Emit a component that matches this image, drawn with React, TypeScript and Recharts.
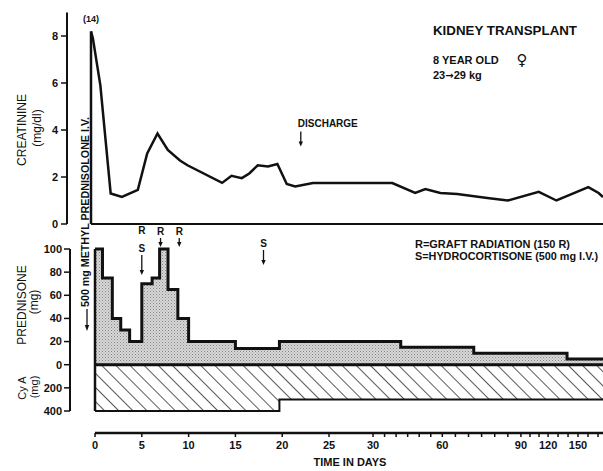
import React from "react";
import {
  ComposedChart,
  Line,
  Area,
  XAxis,
  YAxis,
  ReferenceLine,
  ReferenceDot,
} from "recharts";

// broken time axis: days -> axis position (linear to 25 d, then compressed)
const scaleDays = [0, 25, 30, 60, 90, 120, 150, 180];
const scalePos = [0, 25, 29.7, 37.1, 45.5, 48.4, 51.6, 54.8];

const majorTickDays = [0, 5, 10, 15, 20, 25, 30, 60, 90, 120, 150];
const minorTickDays = [35, 40, 45, 50, 55, 65, 70, 75, 80, 85, 100, 110, 130, 140, 160, 170];
const lastDay = 175;

const creatinineDays = [
  -0.4, -0.2, 0.6, 1.7, 2.9, 4.6, 5.6, 6.7, 7.8, 9.1, 9.9, 13.6, 14.6, 15.7, 16.5,
  17.4, 18.5, 19.5, 20.5, 21.4, 23.3, 38.4, 48.3, 52.7, 59.2, 65.7, 77.2, 85, 109.7,
  128.4, 160.3, 170.6, 175,
];
const creatinineValues = [
  8.2, 7.9, 5.9, 1.3, 1.15, 1.45, 3.0, 3.85, 3.15, 2.7, 2.5, 1.75, 2.05, 1.95, 2.15,
  2.5, 2.45, 2.55, 1.7, 1.6, 1.74, 1.74, 1.32, 1.49, 1.32, 1.28, 1.11, 1.0, 1.37,
  1.0, 1.57, 1.32, 1.15,
];
const creatinineDay0Actual = 14;
const creatinineTicks = [0, 2, 4, 6, 8];

const prednisoneDays = [0, 0.8, 1.85, 2.75, 3.7, 5, 6.1, 6.9, 7.8, 8.85, 10, 15, 19.7, 42, 72, 139, lastDay];
const prednisoneMg = [100, 75, 40, 30, 20, 70, 75, 100, 65, 40, 20, 14, 20, 15, 10, 5, 5];
const prednisoneTicks = [0, 20, 40, 60, 80, 100];

const cyclosporinDays = [0, 19.7, lastDay];
const cyclosporinMg = [400, 300, 300];
const cyclosporinTicks = [200, 400];

const dischargeDay = 22;

const markers = [
  { day: 5, labels: ["R", "S"], tip: 77.5, arrow: 20 },
  { day: 7, labels: ["R"], tip: 101.7, arrow: 9 },
  { day: 9, labels: ["R"], tip: 101.7, arrow: 9 },
  { day: 18, labels: ["S"], tip: 86.2, arrow: 15 },
];

const FONT = '"Liberation Sans", Arial, Helvetica, sans-serif';
const INK = "#111";

function dayToPos(day: number): number {
  if (day <= scaleDays[0]) return day;
  for (let i = 1; i < scaleDays.length; i++) {
    if (day <= scaleDays[i]) {
      const t = (day - scaleDays[i - 1]) / (scaleDays[i] - scaleDays[i - 1]);
      return scalePos[i - 1] + t * (scalePos[i] - scalePos[i - 1]);
    }
  }
  return scalePos[scalePos.length - 1];
}

function stepValue(days: number[], values: number[], day: number): number {
  let v = values[0];
  days.forEach((d, i) => {
    if (d <= day) v = values[i];
  });
  return v;
}

// CyA shares the dose axis at 1/10 scale, drawn below zero
const cyaUnit = (mg: number) => -mg / 10;

const creatinineData = creatinineDays.map((d, i) => ({
  pos: dayToPos(d),
  cr: creatinineValues[i],
}));

const doseDays = Array.from(new Set([...prednisoneDays, ...cyclosporinDays])).sort((a, b) => a - b);
const doseData = doseDays.map((d) => ({
  pos: dayToPos(d),
  pred: stepValue(prednisoneDays, prednisoneMg, d),
  cya: cyaUnit(stepValue(cyclosporinDays, cyclosporinMg, d)),
}));

const timeTicks = [
  ...majorTickDays.map((d) => ({ pos: dayToPos(d), label: String(d) })),
  ...minorTickDays.map((d) => ({ pos: dayToPos(d), label: "" })),
];
const doseTicks = [...prednisoneTicks, ...cyclosporinTicks.map(cyaUnit)];

const xMax = dayToPos(lastDay);
const tickStyle = { fontSize: 11, fontWeight: "bold" as const, fill: INK, fontFamily: FONT };
const axisLine = { stroke: INK, strokeWidth: 2 };

const MarkerShape = ({ cx, cy, m }: any) => (
  <g>
    <line x1={cx} y1={cy - m.arrow} x2={cx} y2={cy - 4} stroke={INK} strokeWidth={1.3} />
    <path d={`M${cx - 2.2},${cy - 5} L${cx + 2.2},${cy - 5} L${cx},${cy} Z`} fill={INK} />
    {m.labels.map((t: string, i: number) => (
      <text
        key={t + i}
        x={cx}
        y={cy - m.arrow - 3 - (m.labels.length - 1 - i) * 18}
        textAnchor="middle"
        fontSize={10}
        fontWeight="bold"
        fontFamily={FONT}
        fill={INK}
      >
        {t}
      </text>
    ))}
  </g>
);

const RotLabel = ({ x, y, size, children, bold }: any) => (
  <text
    x={x}
    y={y}
    transform={`rotate(-90 ${x} ${y})`}
    textAnchor="middle"
    dominantBaseline="central"
    fontSize={size}
    fontWeight={bold ? "bold" : "normal"}
    fontFamily={FONT}
    fill={INK}
  >
    {children}
  </text>
);

// axis ids: the "a_" spacer axis sits next to the plot, the "b_" axis outside it
const CreatininePanel = () => (
  <ComposedChart
    width={603}
    height={235}
    data={creatinineData}
    margin={{ top: 12.5, right: 0, bottom: 10, left: 0 }}
  >
    <XAxis
      xAxisId="a_x"
      dataKey="pos"
      type="number"
      domain={[dayToPos(creatinineDays[0]), xMax]}
      allowDataOverflow
      tick={false}
      tickLine={false}
      height={1}
      axisLine={axisLine}
    />
    <YAxis
      yAxisId="b_cr"
      width={67}
      domain={[0, 9]}
      ticks={creatinineTicks}
      tick={tickStyle}
      tickSize={6}
      tickMargin={3}
      tickLine={{ stroke: INK, strokeWidth: 1.5 }}
      axisLine={axisLine}
      interval={0}
    />
    <YAxis yAxisId="a_spacer" width={24} axisLine={false} tick={false} tickLine={false} />
    <ReferenceLine
      xAxisId="a_x"
      yAxisId="b_cr"
      segment={[
        { x: dayToPos(creatinineDays[0]), y: 0 },
        { x: dayToPos(creatinineDays[0]), y: creatinineValues[0] },
      ]}
      stroke={INK}
      strokeWidth={2.5}
    />
    <Line
      xAxisId="a_x"
      yAxisId="b_cr"
      type="linear"
      dataKey="cr"
      stroke={INK}
      strokeWidth={2.5}
      dot={false}
      isAnimationActive={false}
    />
    <ReferenceDot
      xAxisId="a_x"
      yAxisId="b_cr"
      x={dayToPos(creatinineDays[0])}
      y={creatinineValues[0]}
      ifOverflow="visible"
      shape={(p: any) => (
        <text x={p.cx} y={p.cy - 9} textAnchor="middle" fontSize={9} fontWeight="bold" fontFamily={FONT} fill={INK}>
          ({creatinineDay0Actual})
        </text>
      )}
    />
    <ReferenceDot
      xAxisId="a_x"
      yAxisId="b_cr"
      x={dayToPos(dischargeDay)}
      y={3.3}
      ifOverflow="visible"
      shape={(p: any) => (
        <g>
          <text x={p.cx - 3} y={p.cy - 19} fontSize={10} fontWeight="bold" fontFamily={FONT} fill={INK}>
            DISCHARGE
          </text>
          <line x1={p.cx} y1={p.cy - 15} x2={p.cx} y2={p.cy - 4} stroke={INK} strokeWidth={1.3} />
          <path d={`M${p.cx - 2.2},${p.cy - 5} L${p.cx + 2.2},${p.cy - 5} L${p.cx},${p.cy} Z`} fill={INK} />
        </g>
      )}
    />
  </ComposedChart>
);

const DosePanel = () => (
  <ComposedChart
    width={603}
    height={249}
    data={doseData}
    margin={{ top: 27, right: 0, bottom: 0, left: 0 }}
  >
    <defs>
      <pattern id="stipple" width="3" height="3" patternUnits="userSpaceOnUse">
        <rect width="3" height="3" fill="#d8d8d8" />
        <rect x="0" y="0" width="1" height="1" fill="#858585" />
        <rect x="1.5" y="1.5" width="1" height="1" fill="#9a9a9a" />
      </pattern>
      <pattern id="hatch" width="10" height="10" patternUnits="userSpaceOnUse" patternTransform="rotate(-45)">
        <rect width="10" height="10" fill="#fff" />
        <line x1="0" y1="0" x2="0" y2="10" stroke={INK} strokeWidth="1.4" />
      </pattern>
    </defs>
    <XAxis
      xAxisId="b_time"
      dataKey="pos"
      type="number"
      domain={[0, xMax]}
      allowDataOverflow
      height={38}
      ticks={timeTicks.map((t) => t.pos)}
      tickFormatter={(v: number) => timeTicks.find((t) => Math.abs(t.pos - v) < 1e-6)?.label ?? ""}
      interval={0}
      tick={tickStyle}
      tickSize={4}
      tickMargin={4}
      tickLine={{ stroke: INK, strokeWidth: 1.5 }}
      axisLine={{ stroke: INK, strokeWidth: 2.5 }}
    />
    <XAxis
      xAxisId="a_x"
      dataKey="pos"
      type="number"
      domain={[0, xMax]}
      allowDataOverflow
      height={22}
      axisLine={false}
      tick={false}
      tickLine={false}
    />
    <YAxis
      yAxisId="b_dose"
      width={70}
      domain={[cyaUnit(400), 100]}
      ticks={doseTicks}
      tickFormatter={(v: number) => (v < 0 ? String(-v * 10) : String(v))}
      interval={0}
      tick={tickStyle}
      tickSize={6}
      tickMargin={2}
      tickLine={{ stroke: INK, strokeWidth: 1.5 }}
      axisLine={axisLine}
    />
    <YAxis
      yAxisId="a_spacer"
      width={25}
      axisLine={{ stroke: INK, strokeWidth: 2.5 }}
      tick={false}
      tickLine={false}
    />
    <Area
      xAxisId="a_x"
      yAxisId="b_dose"
      type="stepAfter"
      dataKey="cya"
      fill="url(#hatch)"
      fillOpacity={1}
      stroke={INK}
      strokeWidth={2}
      isAnimationActive={false}
    />
    <Area
      xAxisId="a_x"
      yAxisId="b_dose"
      type="stepAfter"
      dataKey="pred"
      fill="url(#stipple)"
      fillOpacity={1}
      stroke={INK}
      strokeWidth={3}
      isAnimationActive={false}
    />
    <ReferenceLine xAxisId="a_x" yAxisId="b_dose" y={0} stroke={INK} strokeWidth={3} />
    {markers.map((m) => (
      <ReferenceDot
        key={m.day + m.labels.join("")}
        xAxisId="a_x"
        yAxisId="b_dose"
        x={dayToPos(m.day)}
        y={m.tip}
        ifOverflow="visible"
        shape={(p: any) => <MarkerShape {...p} m={m} />}
      />
    ))}
  </ComposedChart>
);

const Annotations = () => (
  <svg
    width={603}
    height={471}
    style={{ position: "absolute", left: 0, top: 0, pointerEvents: "none" }}
  >
    <g fontFamily={FONT} fill={INK} fontWeight="bold">
      <text x={433} y={35} fontSize={12} textLength={144} lengthAdjust="spacingAndGlyphs">
        KIDNEY TRANSPLANT
      </text>
      <text x={433} y={64} fontSize={11}>8 YEAR OLD</text>
      <text x={522} y={65} fontSize={15} textAnchor="middle" fontFamily="DejaVu Sans">
        ♀
      </text>
      <text x={433} y={79} fontSize={11}>
        23<tspan fontFamily="DejaVu Sans" fontSize={10}>→</tspan>29 kg
      </text>
      <text x={415} y={248} fontSize={10} textLength={155} lengthAdjust="spacingAndGlyphs">
        R=GRAFT RADIATION (150 R)
      </text>
      <text x={415} y={259.5} fontSize={10} textLength={183} lengthAdjust="spacingAndGlyphs">
        S=HYDROCORTISONE (500 mg I.V.)
      </text>
      <text x={350} y={466} fontSize={11} textAnchor="middle">
        TIME IN DAYS
      </text>
      <text
        x={85.5}
        y={307}
        transform="rotate(-90 85.5 307)"
        dominantBaseline="central"
        fontSize={10}
        textLength={190}
        lengthAdjust="spacingAndGlyphs"
      >
        500 mg METHYL PREDNISOLONE I.V.
      </text>
    </g>
    <line x1={87} y1={309} x2={87} y2={326} stroke={INK} strokeWidth={1.3} />
    <path d="M84.8,325 L89.2,325 L87,331 Z" fill={INK} />
    <RotLabel x={22} y={130} size={12}>CREATININE</RotLabel>
    <RotLabel x={37} y={128} size={12}>(mg/dl)</RotLabel>
    <RotLabel x={22} y={305} size={12}>PREDNISONE</RotLabel>
    <RotLabel x={34} y={302} size={12}>(mg)</RotLabel>
    <RotLabel x={22} y={388} size={11}>Cy A</RotLabel>
    <RotLabel x={34} y={387} size={11}>(mg)</RotLabel>
  </svg>
);

export default function App() {
  return (
    <div style={{ position: "absolute", left: 0, top: 0, width: 603, height: 471, background: "#fff" }}>
      <div style={{ position: "absolute", left: 0, top: 0 }}>
        <CreatininePanel />
      </div>
      <div style={{ position: "absolute", left: 0, top: 222 }}>
        <DosePanel />
      </div>
      <Annotations />
    </div>
  );
}
